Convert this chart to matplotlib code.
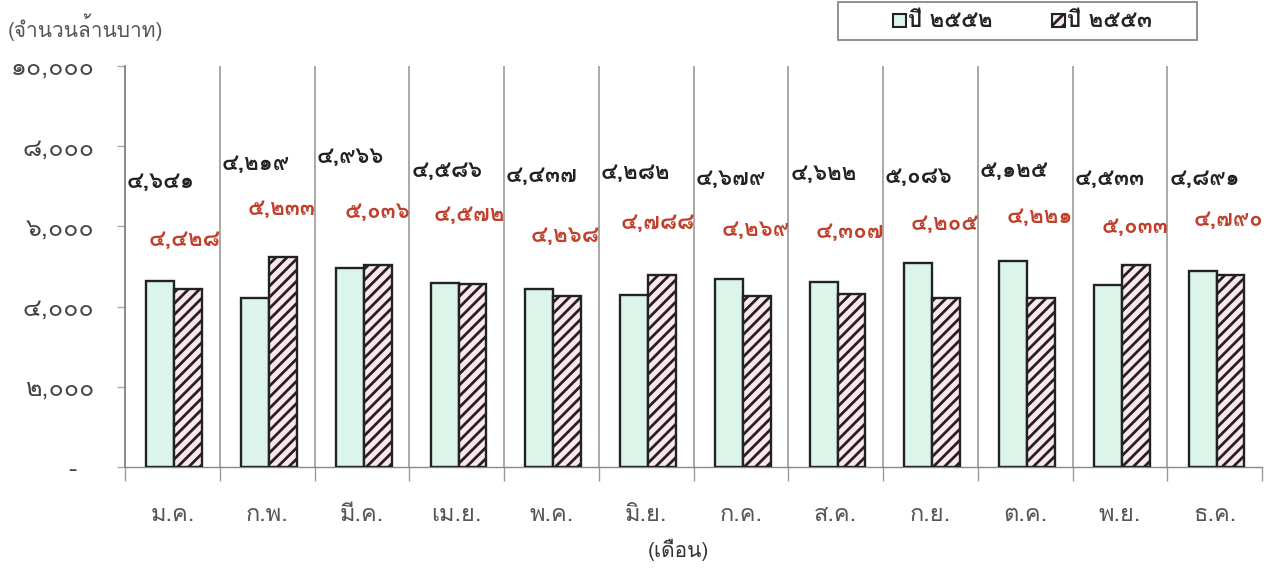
import matplotlib
matplotlib.use("Agg")
import matplotlib.pyplot as plt
import numpy as np
from matplotlib.patches import Rectangle

plt.rcParams['font.family'] = ['Loma', 'Noto Sans Thai', 'DejaVu Sans']
plt.rcParams['hatch.color'] = '#862858'
plt.rcParams['hatch.linewidth'] = 2.0

# ---- data ----
months = ['ม.ค.', 'ก.พ.', 'มี.ค.', 'เม.ย.', 'พ.ค.', 'มิ.ย.',
          'ก.ค.', 'ส.ค.', 'ก.ย.', 'ต.ค.', 'พ.ย.', 'ธ.ค.']
values_2552 = [4641, 4219, 4966, 4586, 4437, 4282, 4679, 4622, 5086, 5125, 4533, 4891]
values_2553 = [4428, 5233, 5036, 4572, 4268, 4788, 4269, 4307, 4205, 4221, 5033, 4790]
series_names = ['ปี ๒๕๕๒', 'ปี ๒๕๕๓']
y_ticks = [0, 2000, 4000, 6000, 8000, 10000]
y_ticklabels = ['-  ', '๒,๐๐๐', '๔,๐๐๐', '๖,๐๐๐', '๘,๐๐๐', '๑๐,๐๐๐']

# ---- layout (label heights in data units) ----
label_y_2552 = [7100, 7550, 7725, 7375, 7250, 7325, 7175, 7300, 7225, 7375, 7175, 7175]
label_y_2553 = [5675, 6425, 6350, 6275, 5775, 6075, 5900, 5850, 6050, 6225, 5975, 6150]

COL_A = '#dbf5ea'
COL_B = '#fde6f0'
THAI_DIGITS = str.maketrans('0123456789', '๐๑๒๓๔๕๖๗๘๙')


def thai_num(v):
    return f'{v:,}'.translate(THAI_DIGITS)


W, H = 1272, 568
fig = plt.figure(figsize=(W / 100, H / 100), dpi=100)
ax = fig.add_axes([125 / W, 1 - 467 / H, (1262 - 125) / W, (467 - 66) / H])

n = len(months)
x = np.arange(n)
w = 0.295
ax.bar(x - w / 2 + 0.02, values_2552, width=w, color=COL_A, edgecolor='#222222', linewidth=1.7, zorder=3)
ax.bar(x + w / 2 + 0.02, values_2553, width=w, color=COL_B, edgecolor='#222222', linewidth=1.7,
       hatch='///', zorder=3)

ax.set_xlim(-0.5, n - 0.5)
ax.set_ylim(0, 10000)

# separators between months
for b in np.arange(0.5, n - 0.5, 1.0):
    ax.axvline(b, color='#9a9a9a', linewidth=1.2, zorder=1)

for s in ['top', 'right']:
    ax.spines[s].set_visible(False)
ax.spines['left'].set_color('#777777')
ax.spines['left'].set_linewidth(1.2)
ax.spines['bottom'].set_color('#888888')
ax.spines['bottom'].set_linewidth(1.0)

ax.set_yticks(y_ticks)
ax.set_yticklabels(y_ticklabels, fontsize=18, color='#444444')
ax.tick_params(axis='y', length=6, width=1, color='#aaaaaa', pad=16)

ax.set_xticks(x)
ax.set_xticklabels(months, fontsize=17, color='#555555')
ax.tick_params(axis='x', length=0, pad=26)
ax.set_xticks(np.arange(-0.5, n, 1.0), minor=True)
ax.tick_params(axis='x', which='minor', length=10, width=1, color='#999999')

for i in range(n):
    ax.text(i - 0.48, label_y_2552[i], thai_num(values_2552[i]), ha='left', va='center',
            fontsize=16, fontweight='bold', color='#222222', zorder=4)
    ax.text(i + 0.51, label_y_2553[i], thai_num(values_2553[i]), ha='right', va='center',
            fontsize=16, fontweight='bold', color='#c2402a', zorder=4)

fig.text(8 / W, 1 - 27 / H, '(จำนวนล้านบาท)', fontsize=15, color='#555555', ha='left', va='center')
fig.text(678 / W, 1 - 550 / H, '(เดือน)', fontsize=15, color='#333333', ha='center', va='center')

# legend box drawn in figure pixels
fig.patches.append(Rectangle((838 / W, 1 - 40 / H), (1197 - 838) / W, 38 / H,
                             transform=fig.transFigure, facecolor='white',
                             edgecolor='#888888', linewidth=1.3))
legend_x = [893, 1052]
for i, name in enumerate(series_names):
    fig.patches.append(Rectangle((legend_x[i] / W, 1 - 27 / H), 13 / W, 13 / H,
                                 transform=fig.transFigure,
                                 facecolor=[COL_A, COL_B][i], edgecolor='#222222',
                                 linewidth=1.5, hatch=[None, '///'][i]))
    fig.text((legend_x[i] + 15) / W, 1 - 21 / H, name, fontsize=16, fontweight='bold',
             color='#222222', ha='left', va='center')

fig.savefig('out.png', dpi=100)
